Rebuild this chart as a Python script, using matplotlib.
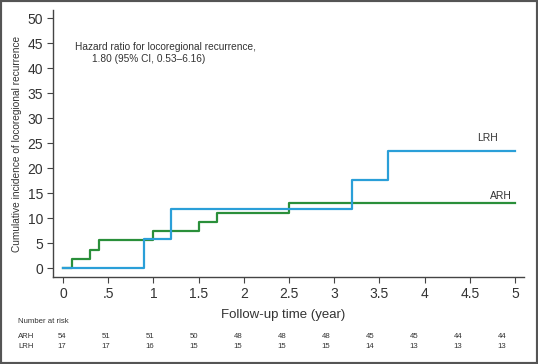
import matplotlib
matplotlib.use("Agg")
import matplotlib.pyplot as plt
import matplotlib.patches as patches
from matplotlib.transforms import blended_transform_factory

plt.rcParams['font.family'] = ['Liberation Sans', 'DejaVu Sans']

# datos
arh_t = [0, 0.1, 0.3, 0.4, 1.0, 1.5, 1.7, 2.5, 5.0]
arh_y = [0, 1.85, 3.7, 5.55, 7.4, 9.3, 11.1, 13.0, 13.0]
lrh_t = [0, 0.9, 1.2, 3.2, 3.6, 5.0]
lrh_y = [0, 5.9, 11.8, 17.6, 23.5, 23.5]

risk_t = [0, 0.5, 1, 1.5, 2, 2.5, 3, 3.5, 4, 4.5, 5]
risk_arh = [54, 51, 51, 50, 48, 48, 48, 45, 45, 44, 44]
risk_lrh = [17, 17, 16, 15, 15, 15, 15, 14, 13, 13, 13]

xticks = [0, 0.5, 1, 1.5, 2, 2.5, 3, 3.5, 4, 4.5, 5]
xlabels = ['0', '.5', '1', '1.5', '2', '2.5', '3', '3.5', '4', '4.5', '5']
yticks = list(range(0, 51, 5))

azul = '#2a9fd8'
verde = '#2a8f3a'
gris = '#333333'

fig = plt.figure(figsize=(5.38, 3.64), dpi=100)
W, H = 538, 364

ax = fig.add_axes([53 / W, (H - 277) / H, 471 / W, 266.5 / H])
ax.step(arh_t, arh_y, where='post', color=verde, lw=1.6)
ax.step(lrh_t, lrh_y, where='post', color=azul, lw=1.6)
ax.set_xlim(-0.11, 5.1)
ax.set_ylim(-1.8, 51.6)
ax.spines['top'].set_visible(False)
ax.spines['right'].set_visible(False)
for s in ['left', 'bottom']:
    ax.spines[s].set_color('#444444')
    ax.spines[s].set_linewidth(1.0)
ax.set_xticks(xticks)
ax.set_xticklabels(xlabels)
ax.set_yticks(yticks)
ax.tick_params(direction='out', length=4, width=0.8, color='#444444',
               labelsize=10, labelcolor=gris, pad=3)
ax.set_ylabel('Cumulative incidence of locoregional recurrence',
              fontsize=7.3, color=gris)
ax.yaxis.set_label_coords(-0.066, 0.5)

ax.text(0.13, 44.2, 'Hazard ratio for locoregional recurrence,',
        fontsize=7.3, color=gris, va='center')
ax.text(0.32, 41.8, '1.80 (95% CI, 0.53\u20136.16)',
        fontsize=7.3, color=gris, va='center')
ax.text(4.7, 26.1, 'LRH', fontsize=7.5, color=gris, ha='center', va='center')
ax.text(4.85, 14.5, 'ARH', fontsize=7.5, color=gris, ha='center', va='center')

fig.text(283 / W, 1 - 315 / H, 'Follow-up time (year)', fontsize=9.5,
         color=gris, ha='center', va='center')

# tabla de numero en riesgo
axt = fig.add_axes([62 / W, 0.02, 440 / W, 0.05])
axt.set_xlim(0, 5)
axt.axis('off')
tr = blended_transform_factory(axt.transData, fig.transFigure)
fig.text(18 / W, 1 - 321.5 / H, 'Number at risk', fontsize=5.6, color=gris, va='center')
fig.text(18 / W, 1 - 337 / H, 'ARH', fontsize=5.6, color=gris, va='center')
fig.text(18 / W, 1 - 346 / H, 'LRH', fontsize=5.6, color=gris, va='center')
for t, a, l in zip(risk_t, risk_arh, risk_lrh):
    axt.text(t, 1 - 337 / H, str(a), transform=tr, fontsize=5.6, color=gris,
             ha='center', va='center')
    axt.text(t, 1 - 346 / H, str(l), transform=tr, fontsize=5.6, color=gris,
             ha='center', va='center')

fig.patches.append(patches.Rectangle((0, 0), 1, 1, transform=fig.transFigure,
                                     fill=False, ec='#555555', lw=3))

fig.savefig('out.png', dpi=100)
